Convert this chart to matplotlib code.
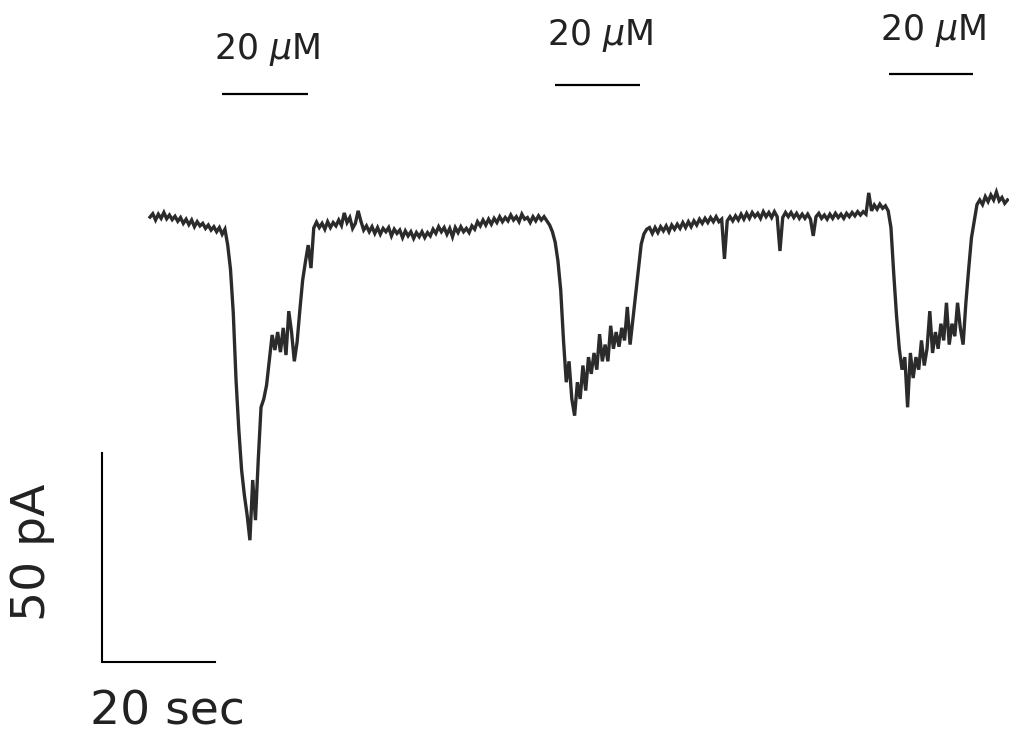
# ==========================================
# Whole-cell current trace - three 20 uM applications
# ==========================================

import numpy as np
import matplotlib
matplotlib.use("Agg")
import matplotlib.pyplot as plt

# ------------------------------------------
# Data (current in pA, sampled every 0.5 s)
# ------------------------------------------

SAMPLE_STEP_S = 0.5

current_pa = [
    -0.5, 0.3, -1.2, 0.2, -0.8, 0.6, -0.9, 0.0, -1.1, -0.3,
    -1.5, -0.6, -2.0, -1.0, -2.3, -1.2, -2.8, -1.6, -2.6, -2.0,
    -3.2, -2.4, -3.6, -2.8, -4.0, -3.0, -4.6, -3.4, -7.2, -13.0,
    -23.4, -39.5, -51.4, -61.0, -67.0, -71.8, -77.8, -63.4, -73.0, -58.6,
    -46.0, -44.0, -40.7, -34.7, -28.7, -32.3, -28.0, -32.8, -27.0, -33.5,
    -23.0, -28.0, -35.0, -30.4, -22.7, -15.6, -11.2, -7.2, -12.7, -3.1,
    -1.7, -3.0, -2.0, -3.4, -1.6, -3.0, -1.8, -2.6, -1.2, -2.5,
    0.5, -1.8, -0.6, -3.2, -2.0, 1.0, -1.5, -3.6, -2.6, -4.0,
    -2.8, -4.4, -3.0, -4.6, -3.2, -4.0, -3.0, -5.0, -3.4, -4.4,
    -3.6, -5.4, -3.8, -5.0, -4.0, -5.6, -4.2, -5.2, -4.0, -5.4,
    -4.2, -5.0, -3.4, -4.4, -2.8, -4.0, -3.0, -4.6, -3.2, -5.2,
    -3.0, -4.2, -2.8, -4.0, -3.2, -4.2, -2.6, -3.4, -1.6, -2.6,
    -1.2, -2.4, -1.0, -2.2, -0.8, -1.8, -0.4, -1.6, -0.6, -1.4,
    0.0, -1.2, -0.4, -1.6, 0.2, -1.0, -0.6, -1.8, -0.4, -1.4,
    -0.2, -1.2, -0.4, -1.4, -2.4, -4.0, -6.5, -11.0, -18.0, -30.0,
    -40.0, -35.0, -44.0, -48.0, -40.0, -44.0, -36.0, -42.0, -34.0, -38.0,
    -33.0, -37.0, -28.5, -35.0, -31.0, -35.0, -26.5, -32.0, -28.0, -31.5,
    -27.0, -30.0, -22.0, -31.0, -25.0, -19.0, -13.0, -7.0, -4.5, -3.4,
    -3.0, -4.4, -3.0, -4.2, -2.8, -3.8, -2.6, -4.0, -2.4, -3.4,
    -2.2, -3.2, -1.8, -3.0, -1.6, -2.8, -1.4, -2.4, -1.0, -2.0,
    -0.8, -1.8, -0.6, -1.6, -0.4, -1.6, -1.0, -10.5, -1.4, -0.4,
    -1.4, -0.2, -1.2, 0.2, -1.0, 0.4, -0.8, 0.6, -0.4, 0.4,
    -0.8, 0.8, -0.4, 0.6, -0.6, 0.8, -0.4, -8.6, -0.6, 0.6,
    -0.4, 0.6, -0.6, 0.4, -0.8, 0.2, -0.8, 0.2, -1.0, -5.0,
    -0.4, 0.4, -0.8, 0.0, -1.0, 0.2, -0.8, 0.4, -0.6, 0.2,
    -0.8, 0.4, -0.4, 0.6, -0.2, 0.8, 0.0, 0.8, 0.2, 5.3,
    1.0, 2.4, 1.4, 2.6, 1.6, 2.2, 1.0, -3.0, -14.0, -24.0,
    -32.0, -37.0, -34.0, -46.0, -33.0, -39.0, -34.0, -37.0, -30.0, -36.0,
    -32.0, -23.0, -33.0, -28.0, -32.0, -26.0, -30.0, -21.0, -31.0, -26.0,
    -29.0, -21.0, -27.0, -31.0, -21.0, -13.0, -5.5, -1.5, 2.5, 3.6,
    2.5, 4.4, 3.2, 4.8, 3.6, 5.5, 3.4, 4.2, 2.8, 3.6,
]

time_s = np.arange(len(current_pa)) * SAMPLE_STEP_S

# drug application bars (start s, end s) and label
app_start_s = [13.0, 73.0, 133.2]
app_end_s = [28.5, 88.3, 148.3]
app_label = r"20 $\mu$M"

# scale bars
scale_time_s = 20
scale_current_pa = 50

# ------------------------------------------
# Figure
# ------------------------------------------

fig = plt.figure(figsize=(10.09, 7.34), dpi=100)
ax = fig.add_axes([0, 0, 1, 1])
ax.set_xlim(-27.03, 154.77)
ax.set_ylim(-124.16, 51.44)
ax.axis("off")

ink = "#2b2b2b"

ax.plot(time_s, current_pa, color=ink, lw=2.4, solid_joinstyle="miter")

# application bars and labels
bar_level = [28.9, 31.1, 33.7]
label_level = [39.6, 42.9, 44.1]
for s, e, bl, ll in zip(app_start_s, app_end_s, bar_level, label_level):
    ax.plot([s, e], [bl, bl], color="black", lw=1.6, solid_capstyle="butt")
    ax.text((s + e) / 2 + 0.4, ll, app_label, ha="center", va="center",
            fontsize=25, color="#222222")

# scale bars
x0, y0 = -8.3, -106.9
ax.plot([x0 - 0.35, x0 - 0.35, x0 + scale_time_s],
        [y0 + scale_current_pa, y0, y0],
        color="black", lw=1.5, solid_joinstyle="miter")

ax.text(x0 + scale_time_s / 2 + 1.5, -119.0, "20 sec",
        ha="center", va="center", fontsize=34, color="#222222")
ax.text(-21.1, -80.6, "50 pA", rotation=90,
        ha="center", va="center", fontsize=34, color="#222222")

fig.savefig("out.png", dpi=100)
